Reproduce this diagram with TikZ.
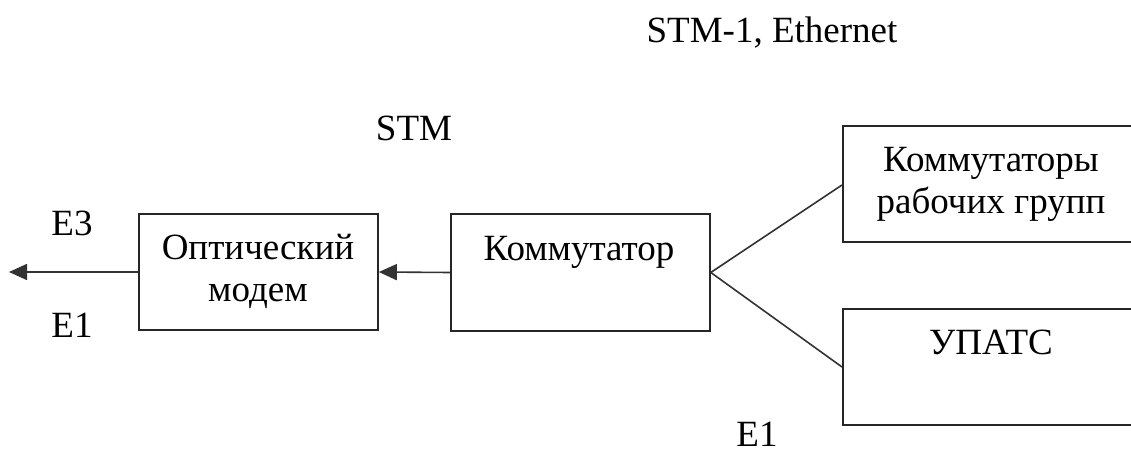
\documentclass[tikz,border=0pt]{standalone}
\usepackage{fontspec}
\setmainfont{Liberation Serif}
\usetikzlibrary{arrows.meta}
\begin{document}
\begin{tikzpicture}[x=1pt,y=-1pt,
  box/.style={draw=black!85,line width=1.6pt,inner sep=0pt},
  txt/.style={inner sep=0pt,align=center,font=\fontsize{37}{42}\selectfont},
  conn/.style={draw=black!80,line width=1.6pt},
  arr/.style={conn,-{Triangle[length=18pt,width=16pt]}}]
\useasboundingbox (0,0) rectangle (1131,457);
% boxes
\node[box,minimum width=239pt,minimum height=116pt] (modem) at (258.5,272) {};
\node[box,minimum width=259pt,minimum height=117pt] (kom) at (580.5,272.5) {};
\node[box,minimum width=310pt,minimum height=116pt,anchor=north west] (krg) at (842,125) {};
\node[box,minimum width=310pt,minimum height=116pt,anchor=north west] (upats) at (842,308) {};
% box texts
\node[txt] (tmodem) at (258,271) {Оптический\\модем};
\node[txt] (tkom) at (579,252) {Коммутатор};
\node[txt] (tkrg) at (991,184) {Коммутаторы\\рабочих групп};
\node[txt] (tupats) at (991,342) {УПАТС};
% free texts
\node[txt] (lstme) at (772,33) {STM-1, Ethernet};
\node[txt] (lstm) at (414,128) {STM};
\node[txt] (le3) at (72,223) {E3};
\node[txt] (le1a) at (72,325) {E1};
\node[txt] (le1b) at (757,434) {E1};
% connectors
\coordinate (out) at (9,272);
\draw[arr] (modem.west) -- (out);
\draw[arr] (kom.west) -- (modem.east);
\draw[conn] (kom.east) -- (krg.west |- 0,185);
\draw[conn] (kom.east) -- (upats.west |- 0,367);
\end{tikzpicture}
\end{document}
